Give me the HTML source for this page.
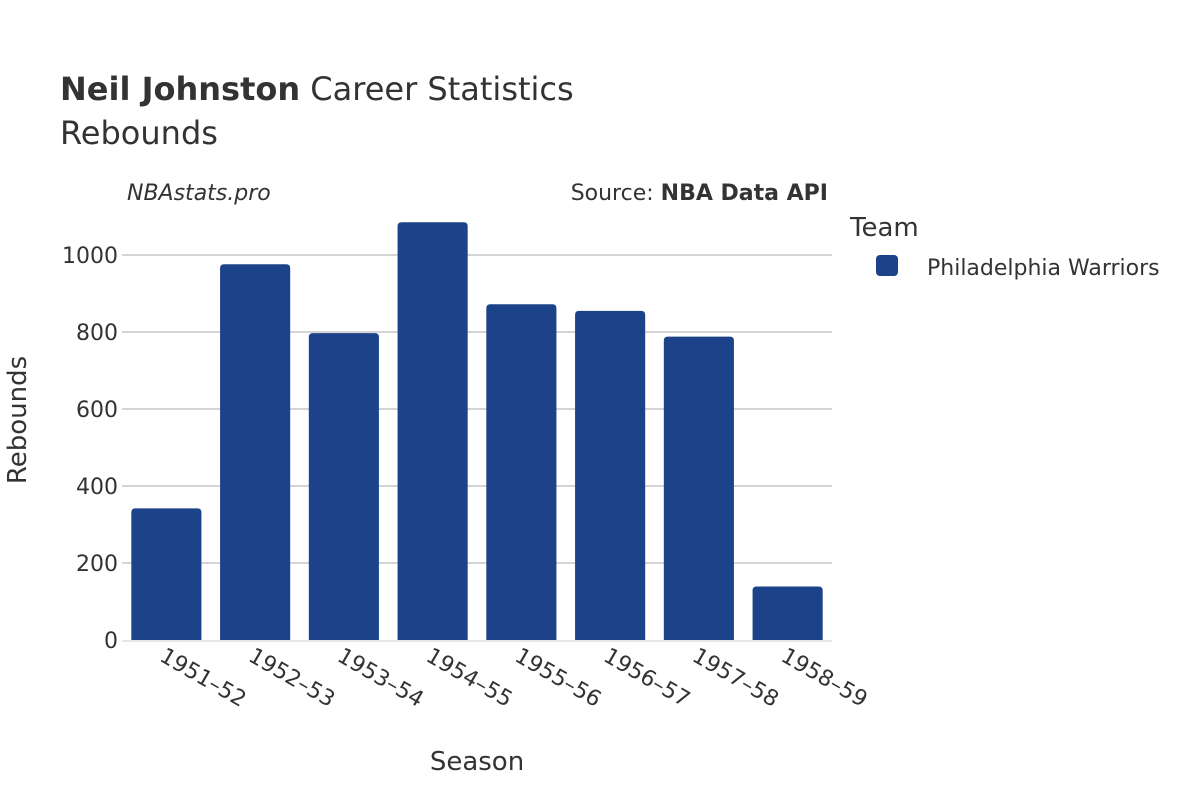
<!DOCTYPE html>
<html><head><meta charset="utf-8"><style>
body{margin:0;background:#fff}
svg{display:block;font-family:"DejaVu Sans","Liberation Sans",sans-serif;fill:#333}
</style></head><body>
<svg id="chart" width="1200" height="800">
<rect width="1200" height="800" fill="#fff"/>
<text x="60" y="100" font-size="32"><tspan font-weight="bold">Neil Johnston</tspan> Career Statistics</text>
<text x="60" y="144" font-size="32">Rebounds</text>
<text x="127" y="200" font-size="22" font-style="italic">NBAstats.pro</text>
<text x="828" y="200" font-size="22" text-anchor="end">Source: <tspan font-weight="bold">NBA Data API</tspan></text>
<g id="grid"></g>
<g id="bars"></g>
<g id="xticks"></g>
<text x="477" y="770" font-size="26" text-anchor="middle">Season</text>
<text transform="translate(26,420) rotate(-90)" font-size="26" text-anchor="middle">Rebounds</text>
<text x="850" y="236" font-size="26">Team</text>
<g>
<rect x="876" y="255" width="22" height="21" rx="4" fill="#1c4289"/>
<text x="927" y="275" font-size="22">Philadelphia Warriors</text>
</g>
</svg>
<script>
const seasons=["1951–52","1952–53","1953–54","1954–55","1955–56","1956–57","1957–58","1958–59"];
const rebounds=[342,976,797,1085,872,855,788,139];
const yTicks=[0,200,400,600,800,1000];
const NS="http://www.w3.org/2000/svg";
const x0=122,x1=832,y0=640,yPer=0.385;
const band=(x1-x0)/seasons.length;
const yS=v=>y0-v*yPer;
const xS=i=>x0+band*i;
function mk(t,a,p){const e=document.createElementNS(NS,t);for(const k in a)e.setAttribute(k,a[k]);p.appendChild(e);return e;}
const grid=document.getElementById('grid');
yTicks.forEach(v=>{
 if(v>0){const l=mk('line',{x1:x0,x2:x1,y1:yS(v),y2:yS(v),stroke:'#aaa','stroke-width':1},grid);
 
 }
 const t=mk('text',{x:x0-4,y:yS(v)+8,'font-size':22,'text-anchor':'end'},grid);
 t.textContent=v;
 
 
});
const base=mk('line',{x1:x0,x2:x1,y1:y0+1,y2:y0+1,stroke:'#e6e6e6','stroke-width':2},grid);


const bars=document.getElementById('bars'),xt=document.getElementById('xticks');
seasons.forEach((s,i)=>{
 const bw=band*0.79,bx=xS(i)+(band-bw)/2,top=yS(rebounds[i]),h=y0-top,r=4;
 const p=mk('path',{d:`M${bx},${y0}V${top+r}Q${bx},${top} ${bx+r},${top}H${bx+bw-r}Q${bx+bw},${top} ${bx+bw},${top+r}V${y0}Z`,fill:'#1c4289'},bars);
 
 
 const cx=xS(i)+band/2;
 const t=mk('text',{transform:`translate(${cx-8},${y0+20}) rotate(30)`,'font-size':22},xt);
 t.textContent=s;
 
 
});
</script>
</body></html>
